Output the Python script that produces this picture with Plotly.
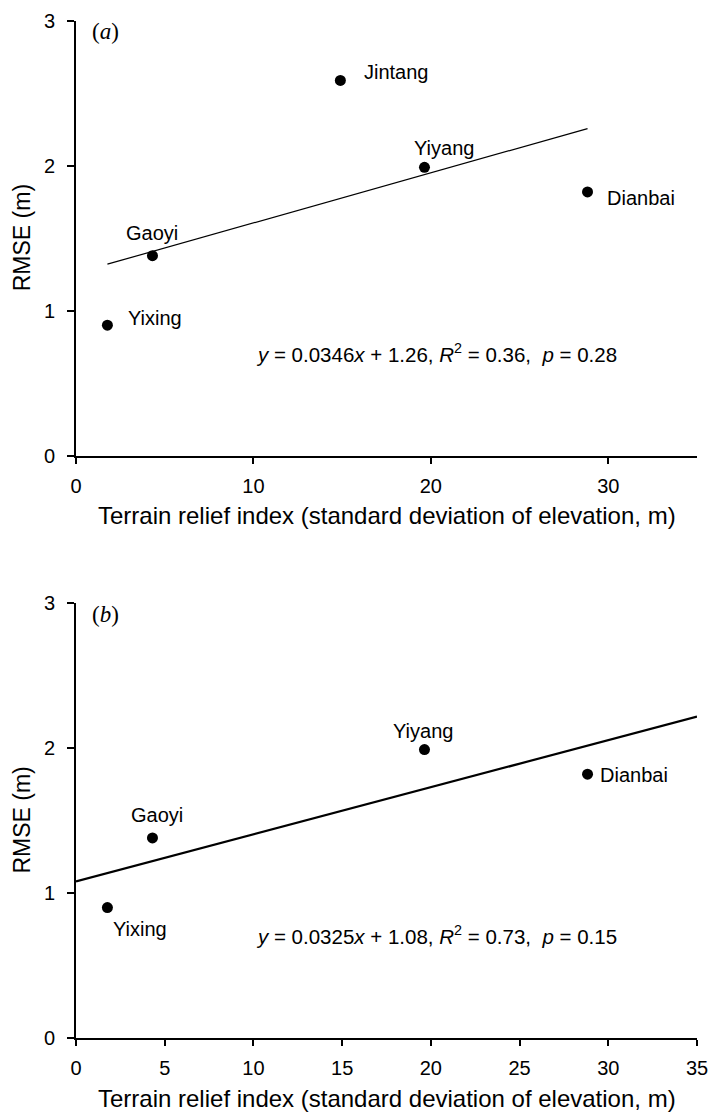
import plotly.graph_objects as go
from plotly.subplots import make_subplots

# ---- data ----
sites_a = ["Yixing", "Gaoyi", "Jintang", "Yiyang", "Dianbai"]
relief_a = [1.77, 4.31, 14.9, 19.64, 28.83]
rmse_a = [0.90, 1.38, 2.59, 1.99, 1.82]

sites_b = ["Yixing", "Gaoyi", "Yiyang", "Dianbai"]
relief_b = [1.77, 4.31, 19.64, 28.83]
rmse_b = [0.90, 1.38, 1.99, 1.82]

slope_a, intercept_a = 0.0346, 1.26
slope_b, intercept_b = 0.0325, 1.08

eq_a = "<i>y</i> = 0.0346<i>x</i> + 1.26, <i>R</i><sup>2</sup> = 0.36,  <i>p</i> = 0.28"
eq_b = "<i>y</i> = 0.0325<i>x</i> + 1.08, <i>R</i><sup>2</sup> = 0.73,  <i>p</i> = 0.15"

x_title = "Terrain relief index (standard deviation of elevation, m)"
y_title = "RMSE (m)"

# label offsets (pixels) per site: (xanchor, xshift, yshift)
lab_a = {"Yixing": ("left", 19, 7), "Gaoyi": ("center", 0, 23), "Jintang": ("left", 22, 8),
         "Yiyang": ("center", 20, 19), "Dianbai": ("left", 17, -6)}
lab_b = {"Yixing": ("left", 4, -21), "Gaoyi": ("center", 5, 23), "Yiyang": ("center", -1, 19),
         "Dianbai": ("left", 10, -1)}

FONT = "Liberation Sans, Arial, Helvetica, sans-serif"

fig = make_subplots(rows=2, cols=1, vertical_spacing=0.145)

# panel a
fig.add_trace(go.Scatter(x=relief_a, y=rmse_a, mode="markers",
                         marker=dict(color="black", size=11), showlegend=False), row=1, col=1)
xa_line = [min(relief_a), max(relief_a)]
fig.add_trace(go.Scatter(x=xa_line, y=[intercept_a + slope_a * v for v in xa_line], mode="lines",
                         line=dict(color="black", width=1.2), showlegend=False), row=1, col=1)
# panel b
fig.add_trace(go.Scatter(x=relief_b, y=rmse_b, mode="markers",
                         marker=dict(color="black", size=11), showlegend=False), row=2, col=1)
xb_line = [0, 35]
fig.add_trace(go.Scatter(x=xb_line, y=[intercept_b + slope_b * v for v in xb_line], mode="lines",
                         line=dict(color="black", width=2.2), showlegend=False), row=2, col=1)

ann = []
for s, xv, yv in zip(sites_a, relief_a, rmse_a):
    xa, xs, ys = lab_a[s]
    ann.append(dict(x=xv, y=yv, xref="x", yref="y", text=s, showarrow=False,
                    xanchor=xa, yanchor="middle", xshift=xs, yshift=ys,
                    font=dict(size=20, family=FONT, color="black")))
for s, xv, yv in zip(sites_b, relief_b, rmse_b):
    xa, xs, ys = lab_b[s]
    ann.append(dict(x=xv, y=yv, xref="x2", yref="y2", text=s, showarrow=False,
                    xanchor=xa, yanchor="middle", xshift=xs, yshift=ys,
                    font=dict(size=20, family=FONT, color="black")))

for xr, yr, eq, lab in [("x", "y", eq_a, "(<i>a</i>)"), ("x2", "y2", eq_b, "(<i>b</i>)")]:
    ann.append(dict(x=10.05, y=0.71, xref=xr, yref=yr, text=eq, showarrow=False,
                    xanchor="left", yanchor="middle",
                    font=dict(size=20.5, family=FONT, color="black")))
    ann.append(dict(x=0.022, y=0.975, xref=xr + " domain", yref=yr + " domain", text=lab,
                    showarrow=False, xanchor="left", yanchor="middle",
                    font=dict(size=23, family="Liberation Serif, Times New Roman, serif", color="black")))
    ann.append(dict(x=0.5, y=0, xref=xr + " domain", yref=yr + " domain", text=x_title,
                    showarrow=False, xanchor="center", yanchor="middle", yshift=-60,
                    font=dict(size=24, family=FONT, color="black")))
    ann.append(dict(x=0, y=0.5, xref=xr + " domain", yref=yr + " domain", text=y_title,
                    showarrow=False, xanchor="center", yanchor="middle", xshift=-54, textangle=-90,
                    font=dict(size=23, family=FONT, color="black")))

fig.update_layout(width=710, height=1119, paper_bgcolor="white", plot_bgcolor="white",
                  margin=dict(l=76, r=13, t=21, b=81, pad=0), annotations=ann,
                  font=dict(family=FONT, color="black"))

axis_common = dict(showline=True, linecolor="black", linewidth=2, ticks="outside",
                   tickcolor="black", tickwidth=1.5, showgrid=False, zeroline=False,
                   tickfont=dict(size=20, family=FONT, color="black"), automargin=False)
fig.update_xaxes(range=[0, 35], ticklen=6, ticklabelstandoff=5, **axis_common)
fig.update_xaxes(dtick=10, row=1, col=1)
fig.update_xaxes(dtick=5, row=2, col=1)
fig.update_yaxes(range=[0, 3], dtick=1, ticklen=7, ticklabelstandoff=8, **axis_common)

fig.update_layout(yaxis=dict(domain=[0.5727, 1.0]), yaxis2=dict(domain=[0.0, 0.4276]))

# remove the default 8px page margin so the 710x1119 figure fills the window exactly
fig.write_html("out.html", config={"displayModeBar": False},
               post_script="document.body.style.margin='0';document.body.style.overflow='hidden';")
